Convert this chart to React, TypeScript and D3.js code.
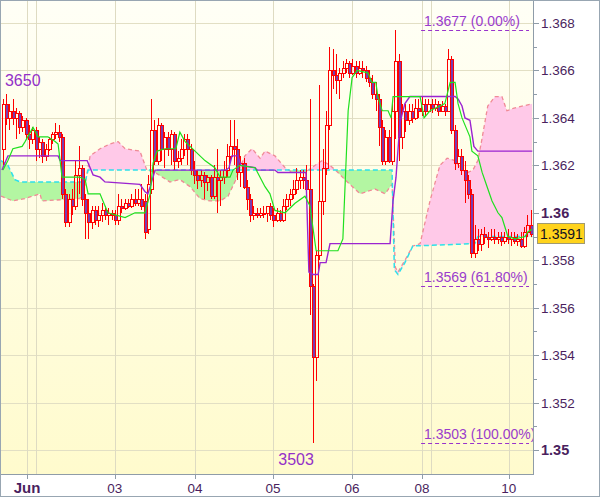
import React from 'react';
import * as d3 from 'd3';

const W = 600;
const H = 497;
const PLOT = { left: 1, right: 533, top: 1, bottom: 474 };

// [open, high, low, close] hourly candles
const ohlc: [number, number, number, number][] = [
  [1.3627,1.3648,1.3620,1.3646],[1.3646,1.3650,1.3637,1.3640],[1.3640,1.3646,1.3635,1.3643],[1.3643,1.3648,1.3637,1.3640],
  [1.3640,1.3644,1.3631,1.3642],[1.3642,1.3643,1.3633,1.3636],[1.3636,1.3641,1.3634,1.3639],[1.3639,1.3640,1.3631,1.3633],
  [1.3633,1.3637,1.3627,1.3631],[1.3631,1.3636,1.3629,1.3635],[1.3635,1.3636,1.3622,1.3627],[1.3627,1.3632,1.3623,1.3630],
  [1.3630,1.3631,1.3621,1.3624],[1.3624,1.3629,1.3622,1.3627],[1.3627,1.3632,1.3626,1.3631],[1.3631,1.3634,1.3629,1.3633],
  [1.3633,1.3638,1.3631,1.3634],[1.3634,1.3637,1.3630,1.3632],[1.3632,1.3633,1.3606,1.3608],[1.3608,1.3610,1.3594,1.3596],
  [1.3596,1.3608,1.3594,1.3606],[1.3606,1.3610,1.3599,1.3603],[1.3603,1.3622,1.3601,1.3616],[1.3616,1.3628,1.3608,1.3619],
  [1.3619,1.3620,1.3603,1.3606],[1.3606,1.3608,1.3589,1.3600],[1.3600,1.3606,1.3589,1.3596],[1.3596,1.3603,1.3593,1.3601],
  [1.3601,1.3603,1.3595,1.3597],[1.3597,1.3603,1.3594,1.3599],[1.3599,1.3604,1.3596,1.3601],[1.3601,1.3603,1.3597,1.3599],
  [1.3599,1.3602,1.3595,1.3600],[1.3600,1.3601,1.3597,1.3599],[1.3599,1.3601,1.3595,1.3597],[1.3597,1.3608,1.3595,1.3603],
  [1.3603,1.3606,1.3600,1.3602],[1.3602,1.3606,1.3601,1.3604],[1.3604,1.3606,1.3602,1.3603],[1.3603,1.3608,1.3602,1.3606],
  [1.3606,1.3610,1.3603,1.3604],[1.3604,1.3610,1.3603,1.3606],[1.3606,1.3612,1.3601,1.3603],[1.3605,1.3608,1.3589,1.3592],
  [1.3593,1.3616,1.3591,1.3612],[1.3610,1.3648,1.3608,1.3635],[1.3635,1.3639,1.3620,1.3622],[1.3622,1.3640,1.3620,1.3637],
  [1.3637,1.3638,1.3622,1.3627],[1.3627,1.3634,1.3619,1.3632],[1.3632,1.3634,1.3624,1.3627],[1.3627,1.3635,1.3620,1.3633],
  [1.3633,1.3634,1.3618,1.3622],[1.3622,1.3626,1.3619,1.3623],[1.3623,1.3631,1.3620,1.3627],[1.3627,1.3633,1.3624,1.3631],
  [1.3631,1.3633,1.3620,1.3627],[1.3627,1.3629,1.3616,1.3618],[1.3618,1.3622,1.3612,1.3616],[1.3616,1.3618,1.3610,1.3614],
  [1.3614,1.3618,1.3611,1.3616],[1.3616,1.3617,1.3606,1.3613],[1.3613,1.3616,1.3609,1.3615],[1.3615,1.3616,1.3606,1.3607],
  [1.3607,1.3620,1.3606,1.3615],[1.3615,1.3627,1.3600,1.3614],[1.3614,1.3618,1.3603,1.3615],[1.3615,1.3622,1.3612,1.3618],
  [1.3618,1.3629,1.3615,1.3624],[1.3624,1.3639,1.3622,1.3628],[1.3628,1.3639,1.3620,1.3627],[1.3627,1.3631,1.3614,1.3617],
  [1.3617,1.3624,1.3611,1.3621],[1.3621,1.3623,1.3610,1.3611],[1.3611,1.3614,1.3601,1.3606],[1.3606,1.3608,1.3596,1.3599],
  [1.3599,1.3603,1.3597,1.3600],[1.3600,1.3602,1.3598,1.3599],[1.3599,1.3602,1.3598,1.3600],[1.3600,1.3603,1.3598,1.3600],
  [1.3600,1.3603,1.3596,1.3603],[1.3603,1.3604,1.3597,1.3599],[1.3599,1.3602,1.3594,1.3597],[1.3597,1.3602,1.3596,1.3600],
  [1.3600,1.3601,1.3596,1.3597],[1.3597,1.3606,1.3596,1.3603],[1.3603,1.3608,1.3601,1.3606],[1.3606,1.3610,1.3603,1.3608],
  [1.3608,1.3614,1.3606,1.3610],[1.3610,1.3619,1.3608,1.3614],[1.3614,1.3618,1.3610,1.3615],[1.3615,1.3618,1.3610,1.3614],
  [1.3614,1.3620,1.3608,1.3610],[1.3610,1.3648,1.3557,1.3569],[1.3569,1.3570,1.3503,1.3539],[1.3539,1.3584,1.3529,1.3582],
  [1.3582,1.3654,1.3580,1.3605],[1.3605,1.3627,1.3599,1.3619],[1.3619,1.3643,1.3616,1.3637],[1.3637,1.3670,1.3635,1.3660],
  [1.3660,1.3669,1.3652,1.3658],[1.3658,1.3667,1.3650,1.3656],[1.3656,1.3661,1.3648,1.3659],[1.3659,1.3664,1.3657,1.3661],
  [1.3661,1.3665,1.3659,1.3663],[1.3663,1.3664,1.3657,1.3659],[1.3659,1.3665,1.3658,1.3662],[1.3662,1.3664,1.3657,1.3659],
  [1.3659,1.3664,1.3658,1.3661],[1.3661,1.3664,1.3657,1.3660],[1.3660,1.3662,1.3655,1.3657],[1.3657,1.3660,1.3653,1.3655],
  [1.3655,1.3658,1.3648,1.3650],[1.3650,1.3655,1.3643,1.3648],[1.3648,1.3650,1.3628,1.3636],[1.3636,1.3639,1.3620,1.3622],
  [1.3622,1.3635,1.3620,1.3632],[1.3632,1.3635,1.3621,1.3622],[1.3622,1.3646,1.3620,1.3643],[1.3643,1.3677,1.3631,1.3664],
  [1.3664,1.3667,1.3622,1.3632],[1.3632,1.3646,1.3627,1.3643],[1.3643,1.3646,1.3634,1.3639],[1.3639,1.3646,1.3637,1.3643],
  [1.3643,1.3646,1.3638,1.3640],[1.3640,1.3648,1.3639,1.3644],[1.3644,1.3648,1.3640,1.3643],[1.3643,1.3649,1.3641,1.3646],
  [1.3646,1.3648,1.3641,1.3643],[1.3643,1.3648,1.3643,1.3646],[1.3646,1.3648,1.3642,1.3644],[1.3644,1.3648,1.3643,1.3646],
  [1.3646,1.3647,1.3641,1.3643],[1.3643,1.3647,1.3643,1.3645],[1.3645,1.3646,1.3641,1.3643],[1.3643,1.3669,1.3643,1.3665],
  [1.3665,1.3666,1.3633,1.3635],[1.3635,1.3637,1.3618,1.3621],[1.3621,1.3627,1.3619,1.3624],[1.3624,1.3627,1.3616,1.3618],
  [1.3618,1.3622,1.3604,1.3614],[1.3614,1.3616,1.3606,1.3608],[1.3608,1.3610,1.3581,1.3583],[1.3583,1.3595,1.3581,1.3589],
  [1.3589,1.3593,1.3584,1.3587],[1.3587,1.3593,1.3584,1.3591],[1.3591,1.3594,1.3587,1.3590],[1.3590,1.3592,1.3585,1.3589],
  [1.3589,1.3593,1.3588,1.3590],[1.3590,1.3593,1.3587,1.3589],[1.3589,1.3592,1.3587,1.3590],[1.3590,1.3592,1.3586,1.3588],
  [1.3588,1.3592,1.3587,1.3590],[1.3590,1.3593,1.3587,1.3589],[1.3589,1.3592,1.3586,1.3590],[1.3590,1.3592,1.3587,1.3588],
  [1.3588,1.3591,1.3586,1.3589],[1.3589,1.3592,1.3585,1.3586],[1.3586,1.3594,1.3585,1.3592],[1.3592,1.3599,1.3590,1.3595],
  [1.3595,1.3601,1.3590,1.3591],
];

// Indicator lines as [bar position, price]
const tenkan: [number, number][] = [
  [0.6,1.3618],[2.1,1.3622],[3.6,1.3627],[6.4,1.3628],[7.3,1.3630],[9.7,1.3636],[11.2,1.3632],[14.2,1.3632],
  [16.4,1.3630],[17.3,1.3629],[18.5,1.3615],[23.9,1.3615],[25.5,1.3614],[26.4,1.3608],[30.0,1.3608],[31.5,1.3603],
  [32.4,1.3600],[37.6,1.3598],[40.6,1.3600],[43.6,1.3600],[45.2,1.3608],[46.1,1.3621],[47.3,1.3626],[49.7,1.3627],
  [53.0,1.3627],[54.2,1.3634],[55.8,1.3630],[58.8,1.3626],[61.8,1.3622],[64.8,1.3619],[66.4,1.3615],[69.4,1.3615],
  [70.3,1.3618],[72.4,1.3620],[77.0,1.3619],[78.5,1.3615],[80.0,1.3611],[81.5,1.3608],[83.0,1.3601],[86.1,1.3600],
  [89.1,1.3604],[92.1,1.3607],[93.6,1.3603],[95.5,1.3584],[102.1,1.3584],[103.6,1.3589],[105.2,1.3643],[106.4,1.3657],
  [107.9,1.3660],[111.2,1.3659],[112.4,1.3655],[113.6,1.3655],[114.2,1.3649],[115.5,1.3643],[117.3,1.3643],[118.2,1.3640],
  [118.8,1.3649],[127.0,1.3649],[128.2,1.3640],[130.0,1.3643],[133.0,1.3645],[134.5,1.3646],[136.1,1.3655],[137.6,1.3655],
  [138.5,1.3646],[139.7,1.3640],[140.9,1.3636],[142.1,1.3632],[142.7,1.3626],[144.5,1.3624],[145.8,1.3617],[147.3,1.3611],
  [148.8,1.3605],[150.6,1.3600],[151.8,1.3598],[152.7,1.3594],[153.6,1.3590],[155.8,1.3589],[158.8,1.3590],[159.7,1.3592],
  [160.9,1.3593],
];

const kijun: [number, number][] = [
  [0.3,1.3618],[2.1,1.3624],[17.3,1.3624],[17.9,1.3622],[26.1,1.3622],[27.9,1.3616],[30.0,1.3615],[31.5,1.3613],
  [42.1,1.3612],[43.6,1.3609],[44.5,1.3608],[45.2,1.3611],[46.7,1.3618],[68.2,1.3618],[69.1,1.3619],[70.0,1.3624],
  [71.8,1.3624],[72.7,1.3620],[77.0,1.3619],[77.6,1.3618],[83.0,1.3618],[83.9,1.3617],[92.4,1.3617],[93.3,1.3575],
  [94.5,1.3574],[96.1,1.3574],[96.7,1.3579],[98.5,1.3579],[99.7,1.3587],[117.9,1.3587],[118.8,1.3605],[119.7,1.3615],
  [120.9,1.3638],[122.4,1.3646],[123.9,1.3649],[137.6,1.3649],[138.5,1.3648],[139.7,1.3645],[140.6,1.3640],[142.1,1.3639],
  [143.3,1.3628],[144.5,1.3626],[161,1.3626],
];

const spanA: [number, number][] = [
  [0,1.3607],[3.6,1.3605],[7.3,1.3606],[11.8,1.3608],[12.4,1.3605],[23.9,1.3606],[25.5,1.3612],[27.0,1.3624],
  [30.0,1.3627],[33.0,1.3629],[35.5,1.3630],[37.6,1.3627],[42.1,1.3626],[44.2,1.3618],[46.7,1.3617],[51.2,1.3613],
  [54.2,1.3614],[57.3,1.3611],[60.3,1.3606],[63.3,1.3605],[66.4,1.3605],[68.8,1.3607],[71.2,1.3614],[72.4,1.3619],
  [73.9,1.3624],[76.1,1.3627],[78.5,1.3623],[80.0,1.3626],[83.0,1.3624],[86.1,1.3619],[88.2,1.3617],[92.1,1.3617],
  [95.2,1.3620],[97.3,1.3622],[99.7,1.3620],[102.1,1.3617],[104.2,1.3614],[108.8,1.3608],[113.3,1.3610],[116.4,1.3608],
  [118.5,1.3612],[119.5,1.3577],[120.3,1.3575],[122.4,1.3580],[124.8,1.3586],[127.0,1.3587],[130.0,1.3605],[133.0,1.3620],
  [135.2,1.3623],[137.6,1.3622],[139.7,1.3618],[141.5,1.3617],[143.0,1.3618],[144.5,1.3622],[145.6,1.3630],[147.5,1.3645],
  [149.7,1.3649],[151.8,1.3649],[153.3,1.3643],[155.2,1.3644],[161,1.3646],
];

const spanB: [number, number][] = [
  [0,1.3622],[2.1,1.3620],[4.2,1.3614],[5.8,1.3613],[25.5,1.3613],[26.4,1.3618],[118.5,1.3618],[119.2,1.3576],
  [120.3,1.3574],[122.4,1.3579],[124.8,1.3586],[143.6,1.3587],[144.5,1.3590],[161,1.3590],
];

const priceMajor = [1.35, 1.352, 1.354, 1.356, 1.358, 1.36, 1.362, 1.364, 1.366, 1.368];
const priceMajorLabels = ['1.35', '1.352', '1.354', '1.356', '1.358', '1.36', '1.362', '1.364', '1.366', '1.368'];
const priceMinor = [1.351, 1.353, 1.355, 1.357, 1.359, 1.361, 1.363, 1.365, 1.367];
const dayTickPos = [7.9, 34.5, 58.8, 82.4, 106.4, 127.6, 153.9];
const dayTickLabels = ['Jun', '03', '04', '05', '06', '08', '10'];
const sessionGrid = [10.6, 130.3];
const fibLevels = [1.3677, 1.3569, 1.3503];
const fibLabels = ['1.3677 (0.00%)', '1.3569 (61.80%)', '1.3503 (100.00%)'];
const fibFrom = 127.3;
const fibTo = 160;
const lastPrice = 1.3591;
const lastPriceLabel = '1.3591';
const extremeLabels = [
  { text: '3650', bar: 1, price: 1.365, side: 'high' },
  { text: '3503', bar: 94, price: 1.3503, side: 'low' },
];

const FONT = "Arial, 'Liberation Sans', sans-serif";
const AXIS_TEXT = '#4a1f5e';

export default function App() {
  const x = d3.scaleLinear().domain([0, 161]).range([1, 532.3]);
  const y = d3.scaleLinear().domain([1.35, 1.368]).range([450, 23]);

  const line = d3.line<[number, number]>().x(d => x(d[0])).y(d => y(d[1]));
  const ptsStr = (arr: [number, number][]) => arr.map(d => `${x(d[0])},${y(d[1])}`).join(' L');

  const betweenPath = `M${ptsStr(spanA)} L${ptsStr([...spanB].reverse())} Z`;
  const aboveB = `M${ptsStr(spanB)} L${x(161)},0 L${x(0)},0 Z`;
  const belowB = `M${ptsStr(spanB)} L${x(161)},${H} L${x(0)},${H} Z`;

  const snap = (v: number) => Math.round(v) + 0.5;

  return (
    <svg width={W} height={H} style={{ position: 'absolute', left: 0, top: 0, fontFamily: FONT }}>
      <defs>
        <linearGradient id="bg" x1="0" y1="0" x2="0" y2="1">
          <stop offset="0" stopColor="#fffff6" />
          <stop offset="1" stopColor="#fffbcd" />
        </linearGradient>
        <clipPath id="plotClip">
          <rect x={PLOT.left} y={PLOT.top} width={PLOT.right - PLOT.left} height={PLOT.bottom - PLOT.top} />
        </clipPath>
        <clipPath id="aboveB"><path d={aboveB} /></clipPath>
        <clipPath id="belowB"><path d={belowB} /></clipPath>
      </defs>
      <rect x={0} y={0} width={W} height={H} fill="#ffffff" />
      <rect x={PLOT.left} y={PLOT.top} width={PLOT.right - PLOT.left} height={PLOT.bottom - PLOT.top} fill="url(#bg)" />

      <g clipPath="url(#plotClip)">
        {/* grid */}
        {priceMajor.map((p, i) => (
          <line key={'hg' + i} x1={0} x2={PLOT.right} y1={snap(y(p))} y2={snap(y(p))} stroke="#e2dfc4" strokeWidth={1} />
        ))}
        {[...dayTickPos, ...sessionGrid].map((t, i) => (
          <line key={'vg' + i} x1={snap(x(t))} x2={snap(x(t))} y1={0} y2={PLOT.bottom} stroke="#dedbc2" strokeWidth={1} />
        ))}

        {/* cloud */}
        <path d={betweenPath} fill="#ffc9e8" clipPath="url(#aboveB)" />
        <path d={betweenPath} fill="#b3f6a2" clipPath="url(#belowB)" />
        <path d={line(spanA) || ''} fill="none" stroke="#f08a96" strokeWidth={1.3} strokeDasharray="4,3" />
        <path d={line(spanB) || ''} fill="none" stroke="#2ee0ea" strokeWidth={1.5} strokeDasharray="5,3" />

        {/* candles */}
        {ohlc.map((c, i) => {
          const [o, h, l, cl] = c;
          const cxi = Math.round(x(i + 0.5));
          const wx = cxi + 0.5;
          const top = Math.round(y(Math.max(o, cl)));
          let bot = Math.round(y(Math.min(o, cl)));
          if (bot - top < 1) bot = top + 1;
          const bull = cl >= o;
          const yh = Math.round(y(h));
          const yl = Math.round(y(l));
          return (
            <g key={'c' + i}>
              {yh < top && <line x1={wx} x2={wx} y1={yh} y2={top} stroke="#ff0000" strokeWidth={1} />}
              {yl > bot && <line x1={wx} x2={wx} y1={bot} y2={yl} stroke="#ff0000" strokeWidth={1} />}
              <rect x={cxi - 0.5} y={top + 0.5} width={3} height={bot - top} fill={bull ? 'none' : '#7a3cae'} stroke="#ff0000" strokeWidth={1} />
            </g>
          );
        })}

        {/* tenkan / kijun */}
        <path d={line(kijun) || ''} fill="none" stroke="#9b24d0" strokeWidth={1.4} />
        <path d={line(tenkan) || ''} fill="none" stroke="#1fe01f" strokeWidth={1.2} />

        {/* fibonacci */}
        {fibLevels.map((p, i) => (
          <g key={'fib' + i}>
            <line x1={x(fibFrom)} x2={x(fibTo)} y1={snap(y(p))} y2={snap(y(p))} stroke="#9933cc" strokeWidth={1} strokeDasharray="4,3" />
            <text x={x(fibFrom) + 3} y={y(p) - 4} fontSize={14} fill="#9a3ccc">{fibLabels[i]}</text>
          </g>
        ))}

        {/* extreme labels */}
        {extremeLabels.map((e, i) => (
          <text key={'ex' + i}
            x={e.side === 'high' ? x(e.bar + 0.5) - 1 : x(e.bar + 0.5) + 1}
            y={e.side === 'high' ? y(e.price) - 8 : y(e.price) + 22}
            textAnchor={e.side === 'high' ? 'start' : 'end'}
            fontSize={16} fill="#9330c8">{e.text}</text>
        ))}
      </g>

      {/* axes */}
      <line x1={PLOT.right + 0.5} x2={PLOT.right + 0.5} y1={0} y2={PLOT.bottom + 1} stroke="#8f9ca8" strokeWidth={1} />
      <line x1={0} x2={PLOT.right + 1} y1={PLOT.bottom + 0.5} y2={PLOT.bottom + 0.5} stroke="#8f9ca8" strokeWidth={1} />
      {priceMajor.map((p, i) => {
        const bold = priceMajorLabels[i].length === 4;
        return (
          <g key={'pt' + i}>
            <line x1={PLOT.right} x2={PLOT.right + 6} y1={snap(y(p))} y2={snap(y(p))} stroke="#8f9ca8" />
            <text x={541} y={y(p) + 5} fontSize={bold ? 14.5 : 13.5} fontWeight={bold ? 'bold' : 'normal'} fill={AXIS_TEXT}>
              {priceMajorLabels[i]}
            </text>
          </g>
        );
      })}
      {priceMinor.map((p, i) => (
        <line key={'pm' + i} x1={PLOT.right} x2={PLOT.right + 4} y1={snap(y(p))} y2={snap(y(p))} stroke="#8f9ca8" />
      ))}
      {dayTickPos.map((t, i) => (
        <g key={'dt' + i}>
          <line x1={snap(x(t))} x2={snap(x(t))} y1={PLOT.bottom} y2={PLOT.bottom + 5} stroke="#8f9ca8" />
          <text x={x(t)} y={493} textAnchor="middle" fontSize={i === 0 ? 15 : 13.5} fontWeight={i === 0 ? 'bold' : 'normal'} fill={AXIS_TEXT}>
            {dayTickLabels[i]}
          </text>
        </g>
      ))}

      {/* last price box */}
      <rect x={537.5} y={Math.round(y(lastPrice)) - 10.5} width={47} height={20} fill="#ffd31c" stroke="#a09a70" strokeWidth={1} />
      <text x={540} y={y(lastPrice) + 5} fontSize={14} fill="#111122">{lastPriceLabel}</text>

      {/* outer border */}
      <rect x={0.5} y={0.5} width={W - 1} height={H - 1} fill="none" stroke="#98a6b2" strokeWidth={1} />
    </svg>
  );
}
